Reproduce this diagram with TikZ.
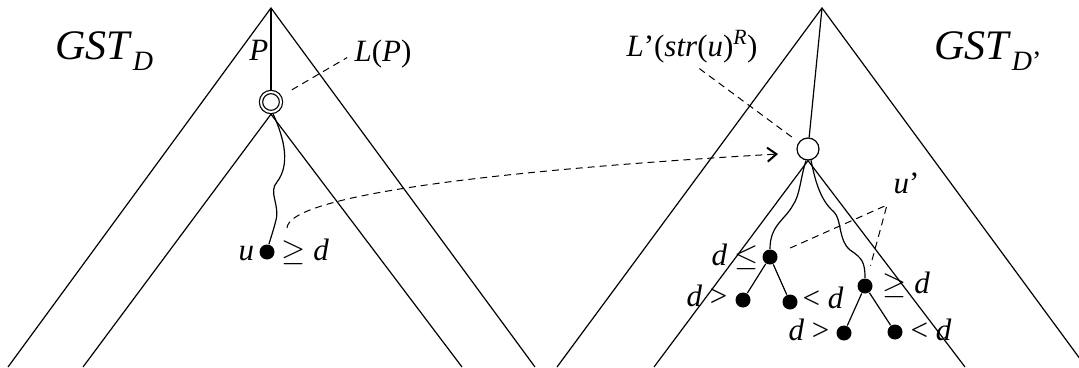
\RequirePackage{fix-cm}
\documentclass[tikz,border=0pt]{standalone}
\usepackage{fontspec}
\setmainfont{Liberation Serif}
\usetikzlibrary{arrows.meta}

\begin{document}
\begin{tikzpicture}[x=1pt, y=-1pt, line width=1.2pt,
    every node/.style={inner sep=0pt, font=\fontsize{31}{36}\selectfont},
    leaf/.style={circle, fill=black, minimum size=15pt},
    hub/.style={circle, draw, fill=white, minimum size=22pt},
    guide/.style={dash pattern=on 7pt off 5pt, line width=1pt},
    title/.style={font=\fontsize{42}{48}\selectfont}]
    \useasboundingbox (0,0) rectangle (1079,367);
    \clip (0,0) rectangle (1079,367);
    % left tree
    \coordinate (A) at (271,8);
    \coordinate (A1) at (8,367);
    \coordinate (A2) at (535,367);
    \coordinate (A3) at (83,367);
    \coordinate (A4) at (462,367);
    \node[hub, double, double distance=2pt, minimum size=20pt, outer sep=2.2pt] (P) at (271,102) {};
    \node[leaf] (U) at (267,252) {};
    \draw (A1) -- (A) -- (A2);
    \draw (A3) -- (P.south) -- (A4);
    \draw (A) -- (P);
    \draw (P.-80) .. controls (285,140) and (290,165) .. (277,182)
        .. controls (268,192) and (280,205) .. (276,220)
        .. controls (273,232) and (270,240) .. (U);
    \node[title, anchor=base west] (G1) at (55,59) {\textit{GST}\raisebox{-11pt}{\fontsize{28}{30}\selectfont\textit{D}}};
    \node[anchor=base east] (Pl) at (269,60) {\textit{P}};
    \node[anchor=base west] (LP) at (354,61) {\textit{L}(\textit{P})};
    \node[anchor=base west] (Ul) at (238,260) {\textit{u}};
    \node[anchor=base west] (Ud) at (281,260) {$\geq$ \textit{d}};
    \draw[guide, shorten <=12pt, shorten >=8pt] (P) -- (LP.west);
    % right tree
    \coordinate (B) at (822,8);
    \coordinate (B1) at (557,367);
    \coordinate (B2) at (1086,367);
    \coordinate (B3) at (654,367);
    \coordinate (B4) at (965,367);
    \node[hub] (R) at (808,149) {};
    \node[leaf] (D1) at (770,257) {};
    \node[leaf] (D1a) at (743,300) {};
    \node[leaf] (D1b) at (790,302) {};
    \node[leaf] (D2) at (865,286) {};
    \node[leaf] (D2a) at (844,333) {};
    \node[leaf] (D2b) at (895,332) {};
    \draw (B1) -- (B) -- (B2);
    \draw (B3) -- (R.south) -- (B4);
    \draw (B) -- (R);
    \draw (R.-100) .. controls (800,180) and (800,195) .. (793,205)
        .. controls (785,220) and (770,225) .. (D1);
    \draw (R.-75) .. controls (815,180) and (820,200) .. (834,212)
        .. controls (842,220) and (838,240) .. (850,250)
        .. controls (862,258) and (865,262) .. (D2);
    \draw (D1a) -- (D1) -- (D1b);
    \draw (D2a) -- (D2) -- (D2b);
    \node[title, anchor=base west] (G2) at (934,59) {\textit{GST}\raisebox{-11pt}{\fontsize{28}{30}\selectfont\textit{D}’}};
    \node[anchor=base west] (LR) at (626,56) {\textit{L}’(\textit{str}(\textit{u})\textsuperscript{\textit{R}})};
    \node[anchor=base west] (Uq) at (893,193) {\textit{u}’};
    \node[anchor=base west] (L1) at (711,265) {\textit{d} $\leq$};
    \node[anchor=base west] (L2) at (882,293) {$\geq$ \textit{d}};
    \node[anchor=base west] (L3) at (686,306) {\textit{d} >};
    \node[anchor=base west] (L4) at (802,308) {< \textit{d}};
    \node[anchor=base west] (L5) at (788,340) {\textit{d} >};
    \node[anchor=base west] (L6) at (910,340) {< \textit{d}};
    \coordinate (V) at (887,205);
    \draw[guide, shorten <=9pt, shorten >=7pt] (LR.south) -- (R);
    \draw[guide, shorten <=14pt, shorten >=13pt] (D1) -- (V) -- (D2);
    % link between the trees
    \draw[guide, -{Straight Barb[length=9pt,width=14pt,line width=2pt]}]
        ([shift={(20,-24)}]U.center) .. controls +(2,-33) and +(-278,16) .. ([shift={(-30,5)}]R.center);
\end{tikzpicture}
\end{document}
